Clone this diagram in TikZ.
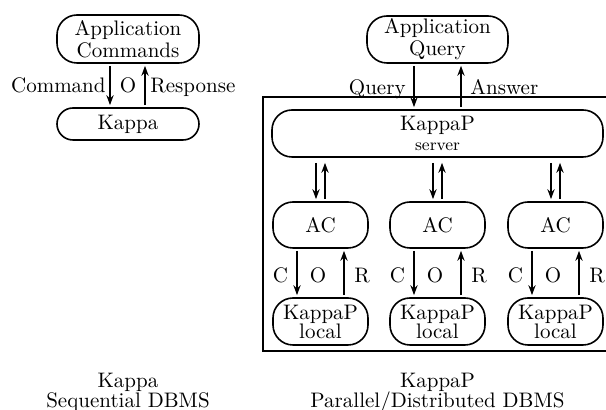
\documentclass[tikz,border=0pt]{standalone}
\usetikzlibrary{arrows.meta}
\begin{document}
\begin{tikzpicture}[x=0.5pt,y=-0.5pt,
  box/.style={draw, line width=0.8pt, rounded corners=10pt, align=center, inner sep=0pt,
              font=\fontsize{10.5}{11}\selectfont},
  arr/.style={line width=0.8pt, -{Stealth[length=5pt,width=3.6pt]}, shorten <=1pt, shorten >=1pt},
  lbl/.style={font=\fontsize{10.5}{11}\selectfont, inner sep=0pt},
  frame/.style={line width=0.8pt}]
\useasboundingbox (0,0) rectangle (606,410);

% ---------- left: sequential ----------
\node[box, minimum width=71pt, minimum height=24pt] (appC) at (128,39) {Application\\Commands};
\node[box, rounded corners=8pt, minimum width=71pt, minimum height=16pt] (kappa) at (128,124) {Kappa};
\draw[arr] ([xshift=-9pt]appC.south) -- ([xshift=-9pt]kappa.north);
\draw[arr] ([xshift=8.5pt]kappa.north) -- ([xshift=8.5pt]appC.south);
\node[lbl, anchor=base east] (cmd) at (106,93) {Command};
\node[lbl, anchor=base] (o0) at (128,93) {O};
\node[lbl, anchor=base west] (resp) at (150,93) {Response};

\node[lbl] (capL1) at (128,382) {Kappa};
\node[lbl] (capL2) at (128,402) {Sequential DBMS};

% ---------- right: parallel ----------
\node[box, minimum width=70.5pt, minimum height=23.5pt] (appQ) at (437.5,39.5) {Application\\Query};
\draw[frame] (612,97) -- (263,97) -- (263,351) -- (612,351);
\node[box, minimum width=165.5pt, minimum height=23.5pt] (server) at (437.5,133.5)
  {KappaP\\[-1pt]{\fontsize{8.5}{9}\selectfont server}};
\draw[arr] ([xshift=-11.75pt]appQ.south) -- ([xshift=-11.75pt]server.north);
\draw[arr] ([xshift=11.75pt]server.north) -- ([xshift=11.75pt]appQ.south);
\node[lbl, anchor=base east] (qry) at (406,95) {Query};
\node[lbl, anchor=base west] (ans) at (470,95) {Answer};

\foreach \i/\x in {1/320.5, 2/437.5, 3/555.5} {
  \node[box, minimum width=47.5pt, minimum height=23pt] (ac\i) at (\x,225) {AC};
  \node[box, minimum width=47.5pt, minimum height=23.5pt] (loc\i) at (\x,321.5) {KappaP\\[-1.5pt]local};
  \coordinate (d\i) at ([xshift=-2.25pt]ac\i.north);
  \coordinate (u\i) at ([xshift=2.25pt]ac\i.north);
  \draw[arr, shorten <=2.5pt] (d\i |- server.south) -- (d\i);
  \draw[arr, shorten >=2.5pt] (u\i) -- (u\i |- server.south);
  \draw[arr] ([xshift=-11.75pt]ac\i.south) -- ([xshift=-11.75pt]loc\i.north);
  \draw[arr] ([xshift=11.75pt]loc\i.north) -- ([xshift=11.75pt]ac\i.south);
  \node[lbl, anchor=base] (c\i) at ([xshift=-20pt]\x,283) {C};
  \node[lbl, anchor=base] (o\i) at ([xshift=-1.25pt]\x,283) {O};
  \node[lbl, anchor=base] (r\i) at ([xshift=20.75pt]\x,283) {R};
}

\node[lbl] (capR1) at (437.5,382) {KappaP};
\node[lbl] (capR2) at (437.5,402) {Parallel/Distributed DBMS};
\end{tikzpicture}
\end{document}
